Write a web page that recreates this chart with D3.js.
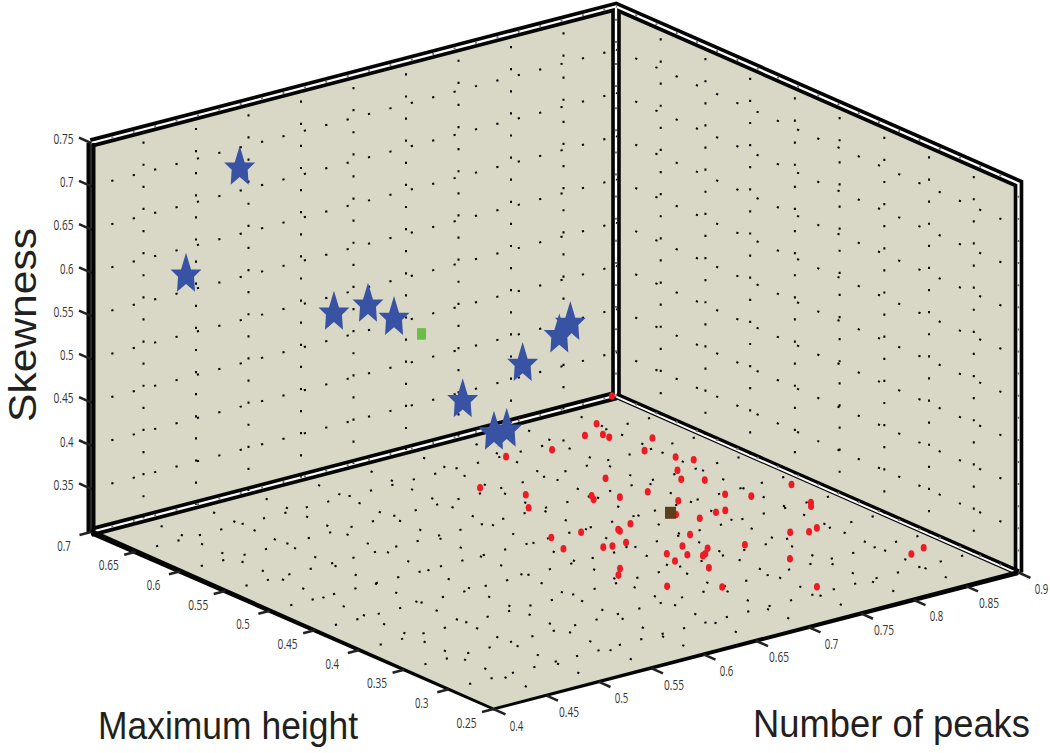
<!DOCTYPE html>
<html>
<head>
<meta charset="utf-8">
<script src="https://d3js.org/d3.v7.min.js"></script>
<style>
  html, body { margin: 0; padding: 0; background: #fff; }
  svg { display: block; }
  text { font-family: "Liberation Sans Narrow", "Open Sans", sans-serif; }
  .title { font-family: "Liberation Sans", sans-serif; }
</style>
</head>
<body>
<svg id="chart" width="1050" height="753"></svg>
<script>
// Tick labels
const peakTicks = ["0.4", "0.45", "0.5", "0.55", "0.6", "0.65", "0.7", "0.75", "0.8", "0.85", "0.9"];
const heightTicks = ["0.25", "0.3", "0.35", "0.4", "0.45", "0.5", "0.55", "0.6", "0.65", "0.7"];
const skewTicks = ["0.35", "0.4", "0.45", "0.5", "0.55", "0.6", "0.65", "0.7", "0.75"];

// Stars sit on the back-left wall: [number of peaks, skewness]
const starPeaks = [0.5416, 0.4905, 0.6314, 0.6638, 0.6886, 0.8565, 0.846, 0.8111, 0.754, 0.7838, 0.7959];
const starSkew = [0.6766, 0.569, 0.4806, 0.4796, 0.4564, 0.3976, 0.3866, 0.3645, 0.3406, 0.2937, 0.2933];

// Red dots sit on the floor
const redPeaks = [
  0.897, 0.85, 0.827, 0.839, 0.839, 0.864, 0.788, 0.842, 0.852, 0.859, 0.751,
  0.835, 0.825, 0.838, 0.781, 0.693, 0.788, 0.831, 0.711, 0.749, 0.745, 0.764,
  0.794, 0.809, 0.801, 0.695, 0.783, 0.734, 0.719, 0.718, 0.693, 0.755, 0.668,
  0.706, 0.735, 0.686, 0.693, 0.66, 0.747, 0.726, 0.715, 0.738, 0.734, 0.71,
  0.721, 0.667, 0.657, 0.671, 0.703, 0.774, 0.844, 0.884, 0.871, 0.866, 0.818,
  0.83, 0.84, 0.774, 0.782, 0.76, 0.861, 0.877
];
const redHeight = [
  0.701, 0.663, 0.649, 0.643, 0.636, 0.617, 0.64, 0.6, 0.577, 0.565, 0.648,
  0.555, 0.539, 0.528, 0.572, 0.609, 0.533, 0.497, 0.579, 0.55, 0.543, 0.536,
  0.506, 0.471, 0.472, 0.557, 0.469, 0.489, 0.485, 0.482, 0.496, 0.447, 0.5,
  0.461, 0.432, 0.463, 0.461, 0.477, 0.418, 0.416, 0.426, 0.41, 0.408, 0.411,
  0.386, 0.422, 0.412, 0.374, 0.35, 0.485, 0.483, 0.485, 0.448, 0.442, 0.409,
  0.402, 0.405, 0.408, 0.367, 0.311, 0.324, 0.329
];

// Single markers
const greenPoint = [0.7148, 0.4297]; // peaks, skewness on the wall
const brownPoint = [0.773, 0.49];    // peaks, height on the floor

const peakDomain = [0.4, 0.9];
const heightDomain = [0.25, 0.7];
const skewDomain = [0.3, 0.75];

const svg = d3.select("#chart");

// One scale per screen direction, the box is a plain parallel projection
const origin = [493.5, 709];
const peakX = d3.scaleLinear().domain(peakDomain).range([0, 525]);
const peakY = d3.scaleLinear().domain(peakDomain).range([0, -136.5]);
const heightX = d3.scaleLinear().domain(heightDomain).range([0, -402.5]);
const heightY = d3.scaleLinear().domain(heightDomain).range([0, -177]);
const skewY = d3.scaleLinear().domain(skewDomain).range([0, -389]);

const project = (p, h, s) => [
  origin[0] + peakX(p) + heightX(h),
  origin[1] + peakY(p) + heightY(h) + skewY(s)
];

const [p0, p1] = peakDomain, [h0, h1] = heightDomain, [s0, s1] = skewDomain;
const line = d3.line();

const wallFill = "#d9d8c6";
const ink = "#050505";

// Panels
const panels = [
  [project(p0, h1, s0), project(p1, h1, s0), project(p1, h1, s1), project(p0, h1, s1)],
  [project(p1, h1, s0), project(p1, h0, s0), project(p1, h0, s1), project(p1, h1, s1)],
  [project(p0, h0, s0), project(p1, h0, s0), project(p1, h1, s0), project(p0, h1, s0)]
];
svg.append("g").selectAll("path")
  .data(panels)
  .join("path")
  .attr("d", d => line(d) + "Z")
  .attr("fill", wallFill);

// Double frame lines
const frameLines = [
  [project(p0, h1, s1), project(p1, h1, s1), project(p1, h0, s1), project(p1, h0, s0)],
  [project(p0, h1, s0), project(p1, h1, s0)],
  [project(p1, h1, s0), project(p1, h1, s1)]
];
const frame = svg.append("g").attr("fill", "none").attr("stroke-linejoin", "miter");
frame.selectAll(".outer")
  .data(frameLines)
  .join("path")
  .attr("class", "outer")
  .attr("d", d => line(d))
  .attr("stroke", ink)
  .attr("stroke-width", 9.6);
frame.selectAll(".inner")
  .data(frameLines)
  .join("path")
  .attr("class", "inner")
  .attr("d", d => line(d))
  .attr("stroke", "#fff")
  .attr("stroke-width", 2.3);

// Seam between right wall and floor: heavy above, thin below
const seam = [project(p1, h1, s0), project(p1, h0, s0)];
frame.append("path").attr("d", line(seam)).attr("stroke", ink).attr("stroke-width", 6.5);
frame.append("path").attr("d", line(seam.map(d => [d[0], d[1] + 1.2]))).attr("stroke", "#fff").attr("stroke-width", 2);

// Left upright is nearly solid
const upright = [project(p0, h1, s0), project(p0, h1, s1)];
frame.append("path").attr("d", line(upright)).attr("stroke", ink).attr("stroke-width", 9);
frame.append("path").attr("d", line(upright)).attr("stroke", "#2a2a2a").attr("stroke-width", 2);

// Dotted grid lines, always walked from the end where the dots begin
const pTicks = peakTicks.map(Number), hTicks = heightTicks.map(Number), sTicks = skewTicks.map(Number);
const gridLines = [];
pTicks.slice(1, -1).forEach(p => {
  gridLines.push([project(p, h1, s0), project(p, h1, s1)]);
  gridLines.push([project(p, h0, s0), project(p, h1, s0)]);
});
hTicks.slice(1, -1).forEach(h => {
  gridLines.push([project(p1, h, s0), project(p1, h, s1)]);
  gridLines.push([project(p0, h, s0), project(p1, h, s0)]);
});
sTicks.slice(0, -1).forEach(s => {
  gridLines.push([project(p0, h1, s), project(p1, h1, s)]);
  gridLines.push([project(p1, h1, s), project(p1, h0, s)]);
});
svg.append("g").selectAll("path")
  .data(gridLines)
  .join("path")
  .attr("d", d => line(d))
  .attr("fill", "none")
  .attr("stroke", "#000")
  .attr("stroke-width", 2)
  .attr("stroke-dasharray", "2.2 19.9")
  .attr("stroke-dashoffset", 1.1);

// Same dots along the frame, they show up faint in the white strip
const edgeLines = [
  [project(p0, h1, s1), project(p1, h1, s1)],
  [project(p1, h1, s1), project(p1, h0, s1)],
  [project(p0, h1, s0), project(p1, h1, s0)],
  [project(p1, h1, s0), project(p1, h0, s0)],
  [project(p1, h1, s0), project(p1, h1, s1)],
  [project(p1, h0, s0), project(p1, h0, s1)]
];
svg.append("g").selectAll("path")
  .data(edgeLines)
  .join("path")
  .attr("d", d => line(d))
  .attr("fill", "none")
  .attr("stroke", "#777")
  .attr("stroke-width", 2)
  .attr("stroke-dasharray", "2 20.1")
  .attr("stroke-dashoffset", 1);

// Front floor edges get heavier away from the near corner
const wedge = (a, b, wa, wb) => line([
  [a[0], a[1] - wa / 2], [b[0], b[1] - wb / 2],
  [b[0], b[1] + wb / 2], [a[0], a[1] + wa / 2]
]) + "Z";
svg.append("path").attr("d", wedge(project(p0, h0, s0), project(p0, h1, s0), 3, 6.5)).attr("fill", ink);
svg.append("path").attr("d", wedge(project(p0, h0, s0), project(p1, h0, s0), 3, 5.2)).attr("fill", ink);

// Ticks and labels
const tickColor = "#222";
const labelColor = "#333";
const tickGroup = svg.append("g").attr("stroke", tickColor).attr("stroke-width", 2.5);
const labelGroup = svg.append("g").attr("fill", labelColor).attr("font-size", 14.5);
const labelWidth = d => d.length === 3 ? 13.5 : 20;

tickGroup.selectAll(".tick-p")
  .data(pTicks)
  .join("line")
  .attr("class", "tick-p")
  .attr("x1", d => project(d, h0, s0)[0])
  .attr("y1", d => project(d, h0, s0)[1])
  .attr("x2", d => project(d, h0, s0)[0] + 12)
  .attr("y2", d => project(d, h0, s0)[1] + 5.3);
labelGroup.selectAll(".label-p")
  .data(peakTicks)
  .join("text")
  .attr("class", "label-p")
  .attr("x", d => project(+d, h0, s0)[0] + 23)
  .attr("y", d => project(+d, h0, s0)[1] + 16)
  .attr("text-anchor", "middle")
  .attr("dominant-baseline", "central")
  .attr("textLength", labelWidth)
  .attr("lengthAdjust", "spacingAndGlyphs")
  .text(d => d);

tickGroup.selectAll(".tick-h")
  .data(hTicks)
  .join("line")
  .attr("class", "tick-h")
  .attr("x1", d => project(p0, d, s0)[0])
  .attr("y1", d => project(p0, d, s0)[1])
  .attr("x2", d => project(p0, d, s0)[0] - 11.5)
  .attr("y2", d => project(p0, d, s0)[1] + 3);
labelGroup.selectAll(".label-h")
  .data(heightTicks)
  .join("text")
  .attr("class", "label-h")
  .attr("x", d => project(p0, +d, s0)[0] - 27)
  .attr("y", d => project(p0, +d, s0)[1] + 13)
  .attr("text-anchor", "middle")
  .attr("dominant-baseline", "central")
  .attr("textLength", labelWidth)
  .attr("lengthAdjust", "spacingAndGlyphs")
  .text(d => d);

tickGroup.selectAll(".tick-s")
  .data(sTicks)
  .join("line")
  .attr("class", "tick-s")
  .attr("x1", d => project(p0, h1, d)[0])
  .attr("y1", d => project(p0, h1, d)[1])
  .attr("x2", d => project(p0, h1, d)[0] - 12)
  .attr("y2", d => project(p0, h1, d)[1] - 5.3);
labelGroup.selectAll(".label-s")
  .data(skewTicks)
  .join("text")
  .attr("class", "label-s")
  .attr("x", 73.5)
  .attr("y", d => project(p0, h1, +d)[1] - 4.5)
  .attr("text-anchor", "end")
  .attr("dominant-baseline", "central")
  .attr("textLength", labelWidth)
  .attr("lengthAdjust", "spacingAndGlyphs")
  .text(d => d);

// Axis titles
const titles = svg.append("g").attr("fill", "#231f20").attr("font-size", 38);
titles.append("text")
  .attr("class", "title")
  .attr("x", 98).attr("y", 739)
  .attr("textLength", 260).attr("lengthAdjust", "spacingAndGlyphs")
  .text("Maximum height");
titles.append("text")
  .attr("class", "title")
  .attr("x", 753).attr("y", 737)
  .attr("textLength", 277).attr("lengthAdjust", "spacingAndGlyphs")
  .text("Number of peaks");
titles.append("text")
  .attr("class", "title")
  .attr("transform", "translate(36,422) rotate(-90)")
  .attr("textLength", 194).attr("lengthAdjust", "spacingAndGlyphs")
  .text("Skewness");

// Markers: the star outline, flat across the arms like the original symbol
const starHalf = [[0, -22], [5, -5.3], [15.5, -5.3], [8, 2], [9, 17], [0, 9.3]];
const starShape = starHalf.concat(starHalf.slice(1, -1).reverse().map(d => [-d[0], d[1]]));
svg.append("g").selectAll("path")
  .data(starPeaks.map((p, i) => project(p, h1, starSkew[i])))
  .join("path")
  .attr("d", line(starShape) + "Z")
  .attr("transform", d => `translate(${d[0]},${d[1]})`)
  .attr("fill", "#3953a4");

svg.append("g").selectAll("ellipse")
  .data(redPeaks.map((p, i) => project(p, redHeight[i], s0)))
  .join("ellipse")
  .attr("cx", d => d[0])
  .attr("cy", d => d[1])
  .attr("rx", 3)
  .attr("ry", 3.8)
  .attr("fill", "#ed1c24");

const green = project(greenPoint[0], h1, greenPoint[1]);
svg.append("rect")
  .attr("x", green[0] - 4.5).attr("y", green[1] - 5.8)
  .attr("width", 9).attr("height", 11.6)
  .attr("fill", "#6abd45");

const brown = project(brownPoint[0], brownPoint[1], s0);
svg.append("rect")
  .attr("x", brown[0] - 5.5).attr("y", brown[1] - 6)
  .attr("width", 11).attr("height", 12)
  .attr("fill", "#5c3d1c");
</script>
</body>
</html>
